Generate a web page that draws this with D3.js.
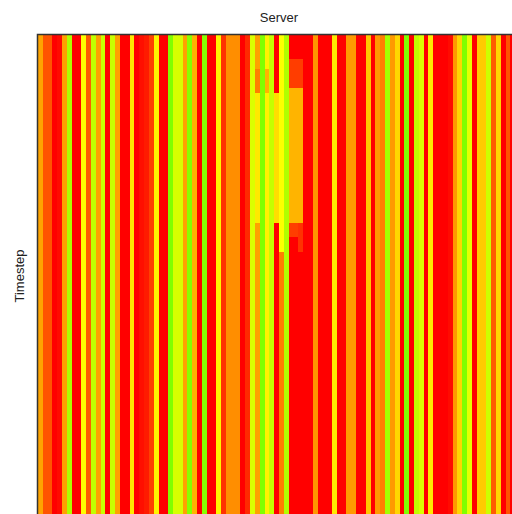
<!DOCTYPE html>
<html>
<head>
<meta charset="utf-8">
<script src="https://cdn.jsdelivr.net/npm/d3@7"></script>
<style>
  body { margin: 0; background: #fff; overflow: hidden; }
  svg { display: block; font-family: 'Liberation Sans', Arial, sans-serif; }
</style>
</head>
<body>
<svg id="heat"></svg>
<script>
// load level per server (0 = red ... 100 = green), steady over time
const serverLoad = [
  43, 22, 22, 0, 3, 42, 88, 0, 0, 67,
  24, 83, 42, 81, 0, 81, 42, 0, 0, 61,
  0, 4, 7, 17, 64, 0, 0, 100, 77, 77,
  42, 98, 47, 0, 98, 0, 0, 64, 13, 37,
  37, 37, 0, 11, 76, 42, 100, 63, 82, 0,
  33, 87, 0, 0, 0, 0, 0, 39, 0, 0,
  0, 61, 0, 0, 40, 40, 0, 0, 52, 0,
  40, 33, 91, 40, 56, 0, 100, 0, 83, 76,
  0, 61, 0, 0, 0, 3, 40, 56, 100, 73,
  0, 53, 53, 80, 24, 56, 0, 22, 0, 0
];
const timesteps = 100;

// a burst where a few servers change for a stretch of timesteps
const burstServer = [45, 45, 47, 49, 50, 52, 52, 52, 53, 53, 53, 54, 54, 54];
const burstFrom   = [7, 12, 7, 12, 0, 5, 11, 39, 5, 11, 39, 5, 11, 39];
const burstTo     = [11, 38, 11, 38, 44, 10, 38, 41, 10, 38, 41, 10, 38, 44];
const burstLoad   = [33, 61, 47, 58, 67, 16, 47, 16, 16, 47, 16, 16, 47, 13];

const svg = d3.select('#heat');
const width = 512;
const height = 514;
const margin = { top: 35, left: 38 };
const plotSize = 482;

svg.attr('width', width).attr('height', height);

const servers = d3.range(serverLoad.length);
const steps = d3.range(timesteps);

const cells = [];
steps.forEach(t => {
  servers.forEach(s => {
    let v = serverLoad[s];
    burstServer.forEach((b, i) => {
      if (b === s && t >= burstFrom[i] && t <= burstTo[i]) v = burstLoad[i];
    });
    cells.push({ server: s, step: t, load: v });
  });
});

const x = d3.scaleBand().domain(servers).range([0, plotSize]);
const y = d3.scaleBand().domain(steps).range([0, plotSize]);
const hue = d3.scaleLinear().domain([0, 100]).range([0, 90]);
const color = v => d3.hsl(hue(v), 1, 0.5).formatHex();

const g = svg.append('g')
  .attr('transform', `translate(${margin.left}, ${margin.top})`);

g.selectAll('rect.cell')
  .data(cells)
  .enter().append('rect')
    .attr('class', 'cell')
    .attr('x', d => x(d.server))
    .attr('y', d => y(d.step))
    .attr('width', x.bandwidth() + 0.3)
    .attr('height', y.bandwidth() + 0.3)
    .attr('fill', d => color(d.load))
    .attr('shape-rendering', 'crispEdges');

// frame
g.append('rect')
  .attr('x', -0.5)
  .attr('y', -0.5)
  .attr('width', plotSize + 1)
  .attr('height', plotSize + 1)
  .attr('fill', 'none')
  .attr('stroke', '#333')
  .attr('stroke-width', 1.5);

// axis titles
svg.append('text')
  .attr('x', margin.left + plotSize / 2)
  .attr('y', 22)
  .attr('text-anchor', 'middle')
  .attr('font-size', 13)
  .attr('fill', '#222')
  .text('Server');
svg.append('text')
  .attr('transform', `translate(24, ${margin.top + plotSize / 2}) rotate(-90)`)
  .attr('text-anchor', 'middle')
  .attr('font-size', 13)
  .attr('fill', '#222')
  .text('Timestep');
</script>
</body>
</html>
